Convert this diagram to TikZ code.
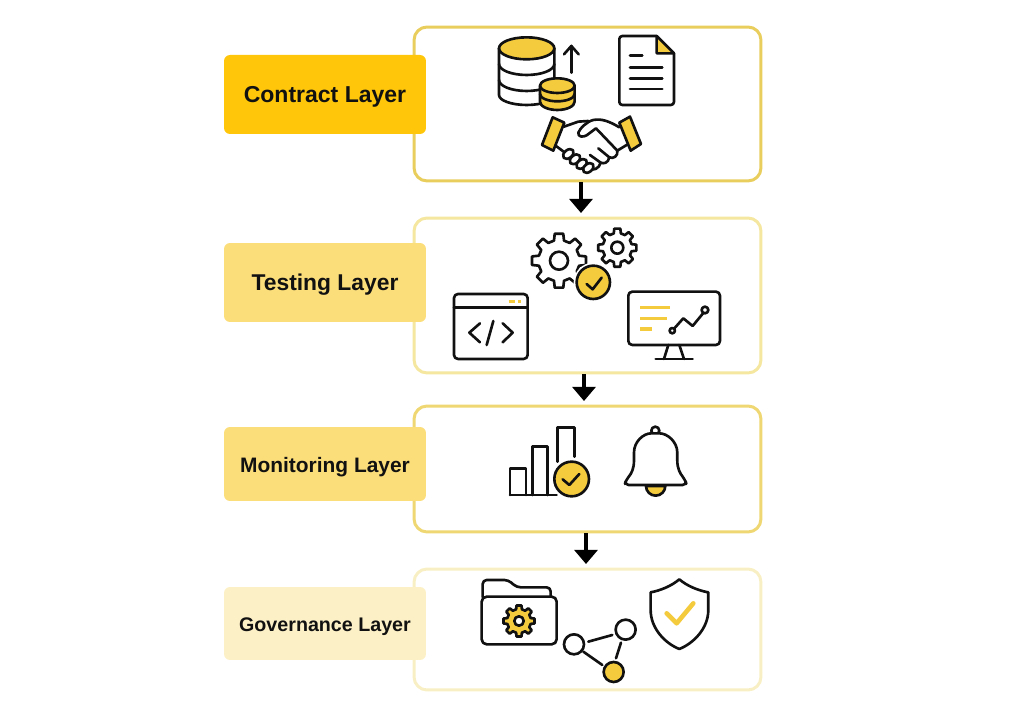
\documentclass[tikz,border=0pt]{standalone}
\usepackage{fontspec}
\setmainfont{Liberation Sans}
\usetikzlibrary{arrows.meta}
\definecolor{inkblack}{HTML}{111111}
\definecolor{iconyellow}{HTML}{F4CB3D}
\begin{document}
\begin{tikzpicture}[x=0.02cm,y=-0.02cm,
  layerbox/.style={draw,line width=1.7pt,fill=white,rounded corners=0.26cm,minimum width=6.94cm},
  layerlabel/.style={rounded corners=0.12cm,minimum width=4.04cm,inner sep=0pt,text height=0.42cm,text depth=0.08cm,text=inkblack},
  flowarrow/.style={draw=black,line width=2.8pt,shorten >=0.07cm,-{Triangle[width=13pt,length=8pt]}},
  icon/.style={draw=inkblack,line width=1.5pt,line join=round,line cap=round}]
\useasboundingbox (0,0) rectangle (1024,715);
%boxes
\node[layerbox,draw={rgb,255:red,233;green,206;blue,94},minimum height=3.08cm] (box1) at (587.5,104) {};
\node[layerbox,draw={rgb,255:red,245;green,231;blue,160},minimum height=3.1cm] (box2) at (587.5,295.5) {};
\node[layerbox,draw={rgb,255:red,239;green,216;blue,115},minimum height=2.52cm] (box3) at (587.5,469) {};
\node[layerbox,draw={rgb,255:red,248;green,240;blue,196},minimum height=2.42cm] (box4) at (587.5,629.5) {};
%labels
\node[layerlabel,fill={rgb,255:red,255;green,198;blue,10},minimum height=1.58cm,font=\fontsize{13.1}{15}\selectfont\bfseries] (label1) at (325,94.5) {Contract Layer};
\node[layerlabel,fill={rgb,255:red,251;green,221;blue,122},minimum height=1.58cm,font=\fontsize{13}{15}\selectfont\bfseries] (label2) at (325,282.5) {Testing Layer};
\node[layerlabel,fill={rgb,255:red,251;green,221;blue,122},minimum height=1.48cm,font=\fontsize{11.9}{15}\selectfont\bfseries] (label3) at (325,464) {Monitoring Layer};
\node[layerlabel,fill={rgb,255:red,252;green,240;blue,198},minimum height=1.46cm,font=\fontsize{11.2}{15}\selectfont\bfseries] (label4) at (325,623.5) {Governance Layer};
%arrows
\draw[flowarrow] ([xshift=-0.13cm]box1.south) -- ([xshift=-0.13cm]box2.north);
\draw[flowarrow] ([xshift=-0.07cm]box2.south) -- ([xshift=-0.07cm]box3.north);
\draw[flowarrow] ([xshift=-0.03cm]box3.south) -- ([xshift=-0.03cm]box4.north);
%contract icons
\begin{scope}[shift={(410,20)},scale=0.3333]
\draw[icon,fill=iconyellow] (350,85) ellipse [x radius=83,y radius=33];
\draw[icon] (267,85) -- (267,225) arc [start angle=180,end angle=0,x radius=83,y radius=30] -- (433,85);
\draw[icon] (267,132) arc [start angle=180,end angle=0,x radius=83,y radius=33];
\draw[icon] (267,180) arc [start angle=180,end angle=0,x radius=83,y radius=33];
\draw[icon,fill=iconyellow] (390,197) -- (390,245) arc [start angle=180,end angle=0,x radius=52,y radius=25] -- (494,197) -- cycle;
\draw[icon,fill=iconyellow] (442,197) ellipse [x radius=52,y radius=22];
\draw[icon] (390,222) arc [start angle=180,end angle=0,x radius=52,y radius=22];
\draw[icon] (484,158) -- (484,78);
\draw[icon] (462,103) -- (484,78) -- (506,103);
%document
\draw[icon,rounded corners=0.06cm] (740,48) -- (628,48) -- (628,255) -- (792,255) -- (792,100);
\draw[icon,fill=iconyellow] (740,48) -- (792,100) -- (740,100) -- cycle;
\draw[icon] (660,107) -- (697,107);
\foreach \ypos in {143,176,207} \draw[icon] (660,\ypos) -- (757,\ypos);
%handshake
\draw[icon,fill=iconyellow] (428,292) -- (463,308) -- (430,392) -- (396,375) -- cycle;
\draw[icon,fill=iconyellow] (660,290) -- (628,308) -- (662,392) -- (693,372) -- cycle;
\draw[icon] (462,320) -- (505,305) -- (535,303);
\draw[icon] (438,378) -- (465,398);
\draw[icon] (628,322) .. controls (600,305) and (575,295) .. (550,300) .. controls (530,305) and (510,325) .. (505,338) .. controls (503,352) and (520,352) .. (530,346) -- (558,325) -- (622,392);
\draw[icon] (650,375) -- (622,392) .. controls (625,408) and (610,418) .. (598,412) .. controls (595,430) and (580,432) .. (572,428) .. controls (568,445) and (550,455) .. (535,445);
\draw[icon] (565,385) -- (598,412);
\draw[icon] (540,405) -- (572,428);
\foreach \xpos/\ypos in {475/402,495/418,515/432,535/444}
  \draw[icon,fill=white,rotate around={40:(\xpos,\ypos)}] (\xpos,\ypos) ellipse [x radius=18,y radius=12];
\end{scope}
%testing icons
\begin{scope}[shift={(410,210)},scale=0.3333]
%window
\draw[icon,rounded corners=0.08cm] (132,252) rectangle (353,447);
\draw[icon] (132,293) -- (353,293);
\draw[iconyellow,line width=2pt] (296,274) -- (315,274) (324,274) -- (334,274);
\draw[icon] (210,340) -- (178,368) -- (210,397);
\draw[icon] (250,333) -- (230,405);
\draw[icon] (278,340) -- (308,368) -- (278,397);
%monitor
\draw[icon,rounded corners=0.08cm] (655,245) rectangle (930,405);
\draw[icon] (775,405) -- (762,447);
\draw[icon] (808,405) -- (822,447);
\draw[icon] (737,447) -- (848,447);
\draw[iconyellow,line width=1.9pt] (690,292) -- (780,292) (690,325) -- (770,325) (690,357) -- (725,357);
\draw[icon] (787,362) -- (820,325) -- (848,348) -- (885,303);
\draw[icon,fill=white] (787,362) circle [radius=8];
\draw[icon,fill=white] (885,300) circle [radius=10];
\end{scope}
%monitoring icons
\begin{scope}[shift={(410,400)},scale=0.3333]
\draw[icon] (300,285) -- (300,205) -- (348,205) -- (348,285);
\draw[icon] (367,285) -- (367,140) -- (413,140) -- (413,285);
\draw[icon] (443,185) -- (443,83) -- (493,83) -- (493,170);
\draw[icon] (300,285) -- (440,285);
\draw[icon,fill=iconyellow] (485,237) circle [radius=52];
\draw[icon] (458,238) -- (478,255) -- (508,222);
%bell
\draw[icon,fill=iconyellow] (708,258) arc [start angle=180,end angle=0,radius=29] -- cycle;
\draw[icon,fill=white] (736,92) circle [radius=12];
\draw[icon,fill=white,rounded corners=0.08cm] (644,255) -- (648,240) .. controls (665,220) and (672,205) .. (672,170) .. controls (672,125) and (700,100) .. (736,100) .. controls (772,100) and (802,125) .. (802,170) .. controls (802,205) and (810,220) .. (826,240) -- (830,255) -- cycle;
\end{scope}
%governance icons
\begin{scope}[shift={(410,560)},scale=0.3333]
%folder
\draw[icon,rounded corners=0.08cm] (218,112) -- (218,60) -- (295,60) -- (320,82) -- (422,82) -- (422,112);
\draw[icon,fill=white,rounded corners=0.1cm] (215,110) rectangle (440,253);
%network
\draw[icon] (535,245) -- (607,225);
\draw[icon] (633,248) -- (618,295);
\draw[icon] (520,275) -- (577,315);
\draw[icon] (492,253) circle [radius=30];
\draw[icon] (647,209) circle [radius=30];
\draw[icon,fill=iconyellow] (611,336) circle [radius=30];
%shield
\draw[icon] (808,58) .. controls (785,78) and (750,92) .. (722,97) -- (722,150) .. controls (722,205) and (765,250) .. (808,267) .. controls (851,250) and (895,205) .. (895,150) -- (895,97) .. controls (866,92) and (831,78) .. (808,58) -- cycle;
\draw[iconyellow,line width=2.6pt,line cap=round,line join=round] (770,160) -- (800,190) -- (850,130);
\end{scope}
%gears
\foreach \cx/\cy/\ro/\ri/\ho/\gearfill in {559/260.7/27.3/20.7/9/white,617.3/247.7/19.3/14.7/6/white,519/621/15.7/12/4.7/iconyellow}{
  \begin{scope}[shift={(\cx,\cy)}]
  \draw[icon,fill=\gearfill] (-14:\ri) \foreach \a in {0,45,...,315} { -- (\a-9:\ro) -- (\a+9:\ro) -- (\a+14:\ri) -- (\a+31:\ri)} -- cycle;
  \draw[icon,fill=white] (0,0) circle [radius=\ho];
  \end{scope}
}
%badge on the gears
\begin{scope}[shift={(410,210)},scale=0.3333]
\draw[white,line width=1.5pt,fill=white] (550,217) circle [radius=55];
\draw[icon,fill=iconyellow] (550,217) circle [radius=50];
\draw[icon] (530,222) -- (548,238) -- (575,203);
\end{scope}
\end{tikzpicture}
\end{document}
